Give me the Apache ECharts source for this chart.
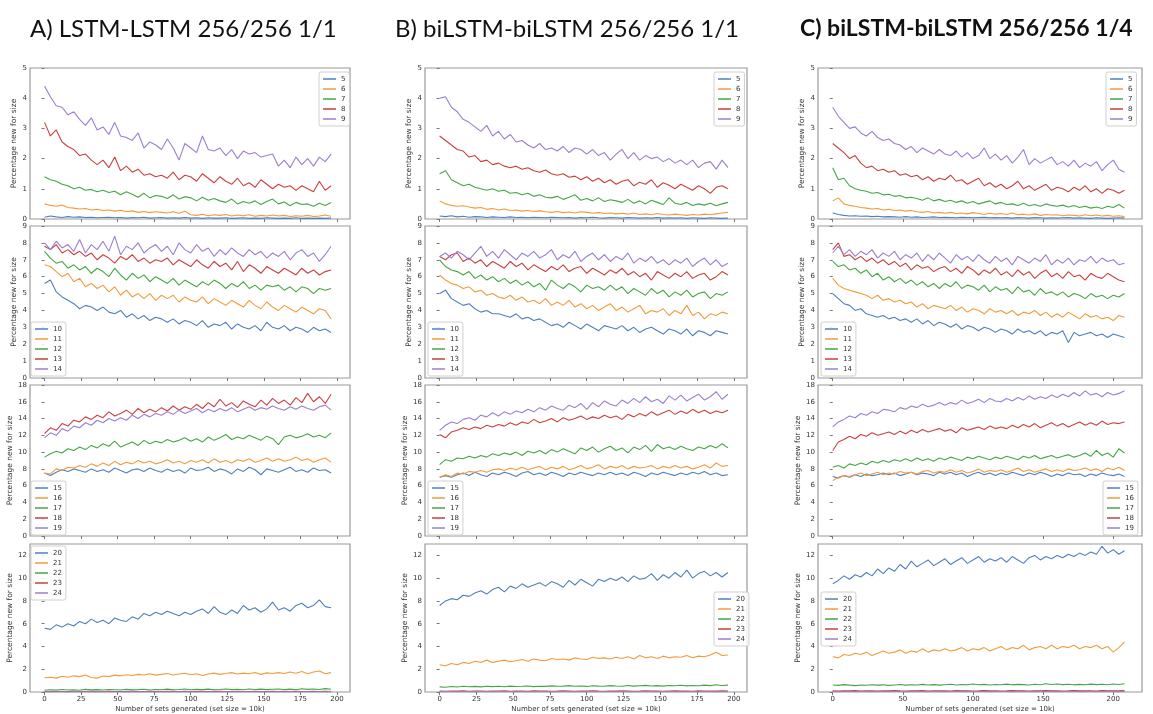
<!DOCTYPE html>
<html><head><meta charset="utf-8">
<script src="https://cdn.jsdelivr.net/npm/echarts@6/dist/echarts.min.js"></script>
<style>html,body{margin:0;padding:0;background:#fff;}#c{width:1153px;height:714px;}</style>
</head><body><div id="c"></div>
<script>
// ---------- tick labels ----------
const xTicksAB = [0,25,50,75,100,125,150,175,200];
const xTicksC = [0,50,100,150,200];
const yTicks1 = [0,1,2,3,4,5];
const yTicks2 = [0,1,2,3,4,5,6,7,8,9];
const yTicks3 = [0,2,4,6,8,10,12,14,16,18];
const yTicks4 = [0,2,4,6,8,10,12];
const titles = ['A) LSTM-LSTM 256/256 1/1','B) biLSTM-biLSTM 256/256 1/1','C) biLSTM-biLSTM 256/256 1/4'];
const names1 = ['5','6','7','8','9'];
const names2 = ['10','11','12','13','14'];
const names3 = ['15','16','17','18','19'];
const names4 = ['20','21','22','23','24'];
const xStep = 4; // sampled every 4 generated sets

// ---------- A: LSTM-LSTM ----------
const A1_5 = [0.06,0.1,0.07,0.05,0.08,0.06,0.07,0.05,0.06,0.04,0.05,0.06,0.04,0.05,0.03,0.05,0.04,0.06,0.03,0.04,0.05,0.03,0.04,0.03,0.05,0.03,0.04,0.02,0.04,0.03,0.03,0.04,0.02,0.03,0.04,0.02,0.03,0.02,0.04,0.03,0.02,0.03,0.02,0.04,0.02,0.03,0.02,0.03,0.02,0.03];
const A1_6 = [0.5,0.45,0.42,0.46,0.38,0.36,0.33,0.35,0.3,0.32,0.28,0.3,0.26,0.29,0.24,0.27,0.22,0.25,0.21,0.24,0.22,0.2,0.24,0.19,0.26,0.14,0.12,0.16,0.11,0.14,0.12,0.15,0.1,0.13,0.11,0.14,0.09,0.12,0.1,0.13,0.1,0.12,0.08,0.11,0.09,0.12,0.08,0.1,0.13,0.09];
const A1_7 = [1.4,1.3,1.25,1.15,1.1,1.0,1.05,0.95,0.98,0.9,0.95,0.88,0.92,0.8,0.9,0.82,0.72,0.85,0.7,0.78,0.75,0.68,0.8,0.66,0.74,0.7,0.6,0.72,0.62,0.68,0.6,0.55,0.66,0.5,0.58,0.52,0.6,0.48,0.58,0.66,0.5,0.56,0.44,0.55,0.48,0.5,0.42,0.52,0.45,0.55];
const A1_8 = [3.2,2.75,2.95,2.55,2.4,2.3,2.1,2.15,1.95,1.8,1.95,1.7,2.05,1.6,1.75,1.55,1.65,1.45,1.5,1.4,1.45,1.35,1.55,1.3,1.45,1.4,1.25,1.5,1.35,1.2,1.4,1.25,1.15,1.35,1.1,1.2,1.05,1.3,1.15,1.0,1.15,1.05,1.1,0.95,1.1,1.0,0.9,1.25,0.95,1.1];
const A1_9 = [4.4,4.05,3.75,3.7,3.45,3.55,3.3,3.1,3.35,2.95,3.05,2.8,3.2,2.75,2.7,2.6,2.85,2.35,2.55,2.45,2.3,2.65,2.35,1.95,2.5,2.35,2.2,2.75,2.3,2.25,2.35,2.1,2.3,2.0,2.25,2.15,2.2,2.05,2.1,2.15,1.75,1.95,1.7,2.05,1.8,2.0,1.75,2.05,1.9,2.15];

const A2_10 = [5.6,5.8,5.1,4.8,4.6,4.4,4.1,4.3,4.2,4.0,4.2,3.9,3.8,4.0,3.6,3.8,3.5,3.7,3.4,3.6,3.5,3.3,3.5,3.2,3.4,3.3,3.1,3.4,3.0,3.2,3.1,3.3,2.9,3.2,3.0,2.9,3.1,2.8,3.3,3.0,2.9,3.1,2.8,3.0,2.9,2.7,3.0,2.8,2.9,2.7];
const A2_11 = [6.7,6.6,6.3,6.0,6.2,5.7,5.9,5.4,5.6,5.3,5.5,5.1,5.4,4.9,5.2,4.8,5.0,4.7,5.0,4.6,4.9,4.7,4.9,4.5,4.8,4.6,4.5,4.8,4.4,4.7,4.5,4.3,4.6,4.4,4.2,4.6,4.3,4.1,4.5,4.2,4.0,4.3,4.1,3.9,4.2,4.0,3.8,4.1,4.0,3.5];
const A2_12 = [7.5,7.1,6.8,6.9,6.5,6.7,6.4,6.6,6.2,6.5,6.3,6.0,6.5,6.1,5.8,6.2,5.9,6.1,5.7,6.0,5.8,5.6,5.9,5.5,5.8,5.6,5.4,5.7,5.5,5.8,5.6,5.3,5.6,5.4,5.7,5.3,5.5,5.2,5.5,5.4,5.5,5.2,5.4,5.1,5.4,5.3,5.0,5.3,5.2,5.3];
const A2_13 = [7.8,7.6,7.9,7.4,7.6,7.3,7.5,7.2,7.4,7.0,7.3,7.1,6.8,7.2,7.0,7.3,6.9,7.1,6.8,7.0,6.9,7.1,6.7,7.0,6.8,6.6,7.0,6.7,6.5,6.9,6.6,6.8,6.4,6.9,6.3,6.7,6.5,6.2,6.6,6.4,6.2,6.5,6.3,6.1,6.5,6.2,6.4,6.1,6.3,6.4];
const A2_14 = [8.0,7.6,8.1,7.7,7.9,7.5,8.2,7.4,7.9,7.6,8.1,7.5,8.4,7.3,7.8,7.6,8.0,7.4,7.7,7.9,7.5,7.8,7.3,8.0,7.6,7.4,7.9,7.5,7.7,7.2,7.6,7.3,7.7,7.4,7.2,7.6,7.3,7.5,7.1,7.4,7.2,7.5,7.0,7.4,7.6,7.2,7.4,6.9,7.3,7.8];

const A3_15 = [7.5,7.2,7.6,7.9,7.7,8.0,7.8,7.6,8.0,7.7,7.9,7.6,8.1,7.8,7.5,7.9,8.0,7.7,8.1,7.8,7.6,8.0,7.7,7.9,7.5,8.1,7.8,7.9,8.2,7.7,8.0,7.8,7.4,8.0,7.7,8.2,7.9,7.3,8.0,7.8,7.6,7.9,8.2,7.7,7.9,7.6,8.1,7.8,7.9,7.5];
const A3_16 = [7.5,7.4,8.0,7.8,8.2,8.1,8.4,8.2,8.6,8.3,8.7,8.4,8.9,8.5,8.8,8.6,9.0,8.7,8.9,8.6,8.8,9.1,8.7,8.9,8.6,9.0,8.8,9.1,8.7,9.2,8.8,9.0,8.7,9.1,8.9,9.2,8.8,9.0,9.3,8.9,9.2,8.9,9.1,9.4,9.0,9.2,8.8,9.1,9.3,8.8];
const A3_17 = [9.4,9.8,10.1,9.9,10.4,10.2,10.6,10.3,10.8,10.5,11.0,10.7,11.3,10.6,10.9,11.2,10.8,11.4,11.0,11.3,11.1,11.5,11.2,11.4,11.7,11.3,11.6,11.2,11.8,11.4,11.7,12.1,11.5,11.8,11.6,12.0,11.7,11.4,11.9,11.6,10.9,11.8,12.0,11.7,11.9,12.2,11.8,12.0,11.7,12.3];
const A3_18 = [12.2,12.9,12.6,13.4,13.1,13.8,13.6,14.2,13.9,14.4,14.1,14.8,14.3,14.6,15.0,14.5,15.2,14.7,15.1,14.8,15.3,14.9,15.5,15.0,15.4,15.1,15.7,15.2,15.9,15.4,16.3,15.5,15.9,15.3,16.1,15.7,15.4,16.2,15.6,16.4,15.8,16.2,15.6,16.5,15.9,17.0,16.0,16.6,15.8,16.9];
const A3_19 = [11.7,12.3,12.0,12.8,12.5,13.1,12.9,13.5,13.2,13.8,13.5,14.0,13.7,14.1,13.8,14.4,14.0,14.5,14.2,14.6,14.4,14.8,14.5,15.0,14.6,14.9,15.2,14.7,15.1,14.8,15.2,14.9,15.3,14.8,15.1,15.4,15.0,15.3,15.1,15.5,15.2,15.0,15.4,15.1,15.5,15.2,15.0,15.4,15.6,15.0];

const A4_20 = [5.6,5.5,5.9,5.7,6.0,5.8,6.2,6.0,6.4,6.1,6.3,6.0,6.5,6.3,6.2,6.6,6.4,6.9,6.7,7.0,6.8,7.1,6.9,6.7,7.0,6.8,7.1,7.3,6.9,7.5,7.0,6.8,7.2,6.9,7.6,7.2,7.4,7.0,7.3,7.9,7.2,7.4,7.1,7.6,7.8,7.4,7.6,8.1,7.5,7.4];
const A4_21 = [1.25,1.3,1.22,1.38,1.3,1.42,1.35,1.5,1.28,1.22,1.4,1.35,1.48,1.42,1.52,1.45,1.55,1.5,1.6,1.48,1.55,1.62,1.5,1.58,1.65,1.52,1.6,1.45,1.58,1.66,1.55,1.62,1.7,1.58,1.66,1.6,1.72,1.55,1.68,1.62,1.7,1.62,1.75,1.65,1.8,1.6,1.75,1.85,1.6,1.7];
const A4_22 = [0.15,0.2,0.17,0.22,0.18,0.2,0.16,0.23,0.19,0.21,0.18,0.22,0.2,0.17,0.23,0.19,0.21,0.24,0.18,0.22,0.2,0.25,0.19,0.22,0.26,0.2,0.23,0.21,0.25,0.19,0.22,0.26,0.21,0.24,0.2,0.27,0.22,0.25,0.21,0.24,0.26,0.22,0.25,0.2,0.28,0.23,0.26,0.22,0.3,0.24];
const A4_23 = [0.05,0.04,0.06,0.05,0.03,0.06,0.04,0.05,0.07,0.04,0.05,0.06,0.04,0.05,0.03,0.06,0.05,0.04,0.06,0.05,0.04,0.07,0.05,0.04,0.06,0.05,0.03,0.06,0.05,0.04,0.06,0.05,0.04,0.07,0.05,0.04,0.06,0.05,0.04,0.06,0.05,0.07,0.04,0.06,0.05,0.04,0.06,0.05,0.07,0.05];
const A4_24 = [0.01,0.02,0.01,0.01,0.02,0.01,0.01,0.02,0.01,0.01,0.02,0.01,0.02,0.01,0.01,0.02,0.01,0.01,0.02,0.01,0.01,0.02,0.01,0.02,0.01,0.01,0.02,0.01,0.01,0.02,0.01,0.02,0.01,0.01,0.02,0.01,0.01,0.02,0.01,0.01,0.02,0.01,0.02,0.01,0.01,0.02,0.01,0.01,0.02,0.01];

// ---------- B: biLSTM-biLSTM 1/1 ----------
const B1_5 = [0.1,0.08,0.11,0.07,0.09,0.06,0.08,0.07,0.05,0.07,0.06,0.05,0.07,0.05,0.06,0.04,0.06,0.05,0.04,0.06,0.05,0.04,0.05,0.03,0.05,0.04,0.06,0.04,0.03,0.05,0.04,0.03,0.05,0.04,0.03,0.04,0.03,0.05,0.03,0.04,0.03,0.04,0.02,0.04,0.03,0.02,0.04,0.03,0.02,0.03];
const B1_6 = [0.6,0.5,0.45,0.42,0.44,0.4,0.36,0.38,0.32,0.35,0.3,0.33,0.28,0.3,0.26,0.28,0.25,0.27,0.24,0.22,0.25,0.21,0.23,0.2,0.24,0.22,0.19,0.21,0.18,0.2,0.17,0.19,0.16,0.2,0.15,0.17,0.14,0.18,0.15,0.13,0.16,0.14,0.12,0.15,0.13,0.16,0.14,0.17,0.2,0.22];
const B1_7 = [1.5,1.6,1.3,1.2,1.1,1.15,1.05,1.0,0.95,1.0,0.92,0.95,0.85,0.88,0.8,0.85,0.75,0.8,0.72,0.7,0.75,0.65,0.72,0.8,0.62,0.68,0.6,0.7,0.58,0.64,0.6,0.55,0.65,0.52,0.6,0.5,0.62,0.55,0.48,0.7,0.52,0.48,0.55,0.45,0.5,0.46,0.52,0.44,0.5,0.55];
const B1_8 = [2.75,2.6,2.45,2.3,2.25,2.05,2.1,1.9,1.95,1.8,1.85,1.75,1.7,1.75,1.65,1.7,1.6,1.55,1.62,1.5,1.45,1.5,1.38,1.42,1.3,1.4,1.25,1.35,1.2,1.3,1.15,1.25,1.3,1.1,1.22,1.15,1.3,1.05,1.2,1.12,1.0,1.15,1.05,0.95,1.1,1.0,0.85,1.05,1.1,1.0];
const B1_9 = [4.0,4.05,3.7,3.55,3.3,3.2,3.05,2.9,3.1,2.75,2.9,2.65,2.8,2.55,2.6,2.45,2.35,2.5,2.3,2.35,2.25,2.4,2.2,2.35,2.3,2.15,2.3,2.1,2.2,1.95,2.15,2.3,2.0,2.2,1.95,2.1,2.0,2.05,1.9,2.0,1.85,1.95,1.8,1.95,1.7,1.85,1.9,1.65,1.95,1.7];

const B2_10 = [5.0,5.2,4.7,4.5,4.3,4.4,4.1,3.9,4.0,3.8,3.8,3.7,3.6,3.8,3.5,3.6,3.4,3.5,3.3,3.1,3.2,3.0,3.3,3.1,2.9,3.2,3.0,2.8,3.1,3.0,2.9,3.1,2.8,3.0,2.7,2.9,3.0,2.8,2.6,2.9,2.8,2.6,2.9,2.5,2.8,2.7,2.5,2.8,2.7,2.6];
const B2_11 = [6.1,5.8,5.6,5.5,5.3,5.4,5.1,5.2,4.9,5.0,4.8,4.7,4.9,4.6,4.8,4.5,4.6,4.4,4.7,4.3,4.5,4.3,4.6,4.2,4.4,4.1,4.3,4.0,4.2,4.4,4.0,4.2,3.9,4.1,4.3,3.8,4.0,3.9,4.1,3.7,4.0,3.8,4.3,3.7,3.9,3.5,3.8,3.7,3.9,3.8];
const B2_12 = [7.0,6.6,6.4,6.3,6.1,6.3,5.9,6.1,5.8,6.0,5.7,5.9,5.6,5.8,5.5,5.7,5.4,5.6,5.2,5.8,5.5,5.3,5.6,5.4,5.1,5.5,5.3,5.4,5.2,5.5,5.2,5.4,5.0,5.3,5.1,4.9,5.3,5.0,5.2,4.8,5.1,4.9,5.2,4.8,5.0,5.1,4.7,5.0,4.9,5.1];
const B2_13 = [7.2,7.0,7.3,7.4,6.9,7.1,6.8,7.0,6.6,6.9,6.7,6.5,6.9,6.6,6.8,6.4,6.7,6.5,6.3,6.6,6.4,6.7,6.3,6.5,6.6,6.2,6.5,6.3,6.1,6.4,6.2,6.5,6.1,6.3,6.0,6.2,5.8,6.3,6.1,5.9,6.2,6.0,6.3,5.9,6.1,6.2,5.8,6.0,6.3,6.1];
const B2_14 = [7.2,7.4,7.1,7.5,7.3,7.0,7.4,7.8,7.2,7.5,7.1,7.6,7.3,7.0,7.4,7.2,7.5,7.1,7.3,7.6,7.0,7.3,7.1,7.5,6.9,7.2,7.4,7.0,7.3,6.9,7.2,7.0,7.4,6.8,7.1,6.9,7.2,6.8,7.0,6.7,7.0,6.8,7.1,6.6,6.9,7.1,6.7,7.0,6.6,6.8];

const B3_15 = [7.0,7.2,7.0,7.3,7.5,7.2,7.6,7.3,7.1,7.5,7.3,7.6,7.4,7.1,7.5,7.7,7.3,7.5,7.2,7.6,7.4,7.1,7.5,7.3,7.6,7.4,7.2,7.5,7.3,7.6,7.3,7.5,7.2,7.6,7.4,7.1,7.5,7.3,7.6,7.4,7.2,7.5,7.3,7.6,7.4,7.7,7.3,7.5,7.2,7.3];
const B3_16 = [7.0,7.3,7.1,7.5,7.4,7.7,7.6,7.8,7.6,7.9,8.0,7.8,8.1,7.9,8.2,7.9,8.1,8.3,7.9,8.2,8.0,8.3,7.9,8.1,8.4,8.0,8.2,8.5,8.0,8.3,8.1,8.4,8.0,8.3,8.1,8.2,8.4,8.0,8.3,8.1,8.4,8.1,8.3,8.0,8.2,8.5,8.1,8.7,8.3,8.4];
const B3_17 = [8.5,9.1,8.9,9.3,9.2,9.5,9.3,9.6,9.4,9.8,9.6,9.9,9.7,10.0,9.6,10.1,9.9,10.2,9.8,10.3,10.0,10.4,10.1,9.8,10.5,10.2,10.6,10.0,10.4,10.7,10.2,10.5,9.9,10.6,10.3,10.8,10.1,10.9,10.4,10.6,10.3,10.7,10.4,10.2,10.6,10.4,10.8,10.5,11.0,10.5];
const B3_18 = [12.1,11.7,12.4,12.6,12.9,12.7,13.0,12.8,13.2,13.0,13.3,13.1,13.5,13.2,13.6,13.4,13.9,13.5,13.7,14.0,13.6,14.1,13.8,14.0,14.3,13.9,14.2,14.0,14.4,14.1,14.3,13.9,14.5,14.2,14.6,14.3,14.8,14.4,14.7,15.0,14.5,14.9,14.6,15.1,14.7,15.0,14.6,14.9,14.7,15.0];
const B3_19 = [12.6,13.2,13.6,13.4,13.9,14.1,13.8,14.4,14.2,14.7,14.3,14.8,14.5,14.9,14.7,15.1,14.8,15.3,15.0,15.5,15.2,15.0,15.6,15.3,15.8,15.1,15.9,15.4,16.1,15.7,15.5,16.2,15.8,16.4,15.9,16.6,16.0,16.3,15.8,16.7,16.2,16.8,16.1,16.5,16.9,16.2,16.6,17.2,16.3,16.9];

const B4_20 = [7.6,8.0,8.2,8.1,8.5,8.4,8.7,8.9,8.6,9.0,9.2,8.8,9.3,9.1,9.5,9.2,9.4,9.6,9.3,9.7,9.5,9.2,9.8,9.4,9.9,9.6,9.3,9.9,9.7,10.0,9.8,10.1,9.7,10.2,9.9,10.0,10.4,9.8,10.3,10.0,10.5,10.1,10.7,10.0,10.4,10.6,10.2,10.5,10.1,10.5];
const B4_21 = [2.4,2.3,2.5,2.4,2.6,2.5,2.7,2.6,2.8,2.6,2.7,2.8,2.65,2.75,2.85,2.7,2.9,2.8,2.75,2.95,2.85,2.9,2.8,3.0,2.9,2.85,3.05,2.95,3.0,2.9,3.05,2.95,3.1,2.9,3.2,3.0,3.1,2.95,3.15,3.0,3.1,3.05,3.2,3.0,3.15,3.1,3.25,3.5,3.2,3.25];
const B4_22 = [0.45,0.42,0.48,0.44,0.5,0.46,0.49,0.45,0.51,0.47,0.5,0.46,0.52,0.48,0.5,0.53,0.47,0.51,0.49,0.54,0.5,0.52,0.56,0.5,0.53,0.49,0.55,0.52,0.5,0.56,0.53,0.51,0.57,0.52,0.55,0.58,0.53,0.56,0.52,0.57,0.55,0.59,0.54,0.57,0.55,0.6,0.56,0.63,0.57,0.6];
const B4_23 = [0.08,0.07,0.09,0.08,0.1,0.07,0.09,0.08,0.07,0.09,0.08,0.1,0.07,0.08,0.09,0.07,0.1,0.08,0.09,0.07,0.08,0.1,0.09,0.07,0.08,0.09,0.1,0.08,0.07,0.09,0.08,0.1,0.09,0.07,0.08,0.1,0.09,0.08,0.07,0.09,0.1,0.08,0.09,0.07,0.1,0.08,0.09,0.08,0.1,0.09];
const B4_24 = [0.02,0.03,0.02,0.02,0.03,0.02,0.01,0.03,0.02,0.02,0.03,0.02,0.02,0.01,0.03,0.02,0.02,0.03,0.02,0.01,0.02,0.03,0.02,0.02,0.03,0.02,0.01,0.02,0.03,0.02,0.02,0.03,0.02,0.01,0.02,0.03,0.02,0.02,0.03,0.02,0.01,0.02,0.03,0.02,0.02,0.03,0.02,0.01,0.02,0.03];

// ---------- C: biLSTM-biLSTM 1/4 ----------
const C1_5 = [0.2,0.15,0.12,0.1,0.11,0.09,0.1,0.08,0.09,0.07,0.08,0.07,0.06,0.08,0.06,0.07,0.05,0.06,0.07,0.05,0.06,0.05,0.04,0.06,0.05,0.04,0.05,0.06,0.04,0.05,0.04,0.05,0.03,0.05,0.04,0.03,0.05,0.04,0.03,0.04,0.03,0.04,0.05,0.03,0.04,0.03,0.02,0.04,0.03,0.02,0.03,0.04,0.03];
const C1_6 = [0.6,0.7,0.5,0.45,0.42,0.38,0.36,0.33,0.35,0.3,0.32,0.28,0.3,0.26,0.28,0.24,0.22,0.25,0.2,0.22,0.19,0.22,0.18,0.2,0.17,0.21,0.18,0.15,0.19,0.16,0.18,0.15,0.2,0.14,0.16,0.13,0.17,0.12,0.15,0.13,0.14,0.11,0.13,0.12,0.1,0.14,0.11,0.13,0.1,0.12,0.09,0.11,0.08];
const C1_7 = [1.7,1.3,1.35,1.1,1.0,0.95,0.92,0.85,0.88,0.8,0.82,0.75,0.78,0.7,0.72,0.68,0.62,0.7,0.6,0.65,0.58,0.62,0.55,0.6,0.52,0.58,0.5,0.55,0.6,0.5,0.55,0.48,0.5,0.45,0.52,0.44,0.48,0.42,0.5,0.45,0.42,0.46,0.4,0.45,0.38,0.42,0.36,0.4,0.35,0.42,0.38,0.48,0.36];
const C1_8 = [2.5,2.35,2.2,2.0,2.1,1.85,1.7,1.75,1.6,1.65,1.55,1.6,1.45,1.5,1.4,1.45,1.3,1.4,1.25,1.35,1.3,1.45,1.25,1.3,1.15,1.25,1.35,1.1,1.2,1.05,1.15,1.0,1.1,1.25,1.0,1.1,0.95,1.05,1.15,0.95,1.05,1.0,0.9,1.05,0.95,1.1,0.9,1.0,0.85,1.0,0.95,0.85,0.95];
const C1_9 = [3.7,3.4,3.2,3.0,3.05,2.85,2.75,2.9,2.7,2.6,2.65,2.5,2.45,2.3,2.4,2.2,2.35,2.25,2.15,2.3,2.15,2.1,2.25,2.05,2.2,2.0,2.1,2.35,2.0,2.15,1.95,2.1,1.85,2.05,2.3,1.8,2.0,1.85,1.95,2.05,1.8,1.9,1.75,1.95,1.7,1.85,1.75,1.9,1.6,1.8,1.95,1.65,1.55];

const C2_10 = [5.0,4.7,4.4,4.3,4.0,4.1,3.8,3.7,3.6,3.7,3.5,3.6,3.4,3.5,3.3,3.5,3.2,3.4,3.1,3.3,3.2,3.0,3.2,2.9,3.1,3.0,2.8,3.0,2.9,2.7,2.9,2.8,2.6,2.9,2.7,2.8,2.6,2.8,2.5,2.7,2.6,2.8,2.1,2.7,2.5,2.6,2.7,2.5,2.6,2.4,2.6,2.5,2.4];
const C2_11 = [5.9,5.5,5.3,5.2,5.1,5.0,4.9,4.7,4.9,4.6,4.7,4.5,4.6,4.4,4.5,4.2,4.4,4.1,4.3,4.2,4.1,4.3,4.0,4.2,3.9,4.1,4.0,3.8,4.1,3.9,4.0,3.8,4.0,3.7,3.9,3.8,4.0,3.7,3.9,3.6,3.8,3.6,3.9,3.7,3.5,3.8,3.6,3.7,3.5,3.6,3.4,3.7,3.6];
const C2_12 = [6.9,6.6,6.7,6.4,6.5,6.2,6.4,6.0,6.2,5.8,6.0,5.7,5.9,5.6,5.8,5.5,5.7,5.4,5.6,5.3,5.6,5.4,5.7,5.3,5.5,5.4,5.2,5.5,5.1,5.4,5.2,5.3,5.0,5.4,5.1,5.2,4.9,5.3,5.0,5.1,4.9,5.1,4.8,5.0,4.9,4.7,5.0,4.8,4.9,4.7,4.9,4.8,5.0];
const C2_13 = [7.6,8.0,7.2,7.3,7.0,7.2,6.9,7.1,6.8,7.0,6.7,6.9,6.6,6.8,6.4,6.7,6.5,6.6,6.3,6.5,6.6,6.3,6.5,6.2,6.6,6.4,6.1,6.4,6.2,6.5,6.1,6.3,6.0,6.4,6.1,6.3,5.9,6.2,6.4,6.0,6.2,5.9,6.3,6.0,6.1,5.8,6.2,6.0,5.9,6.2,6.0,5.8,5.7];
const C2_14 = [7.4,7.8,7.3,7.6,7.2,7.5,7.3,7.6,7.1,7.4,7.2,7.5,7.0,7.3,7.1,7.4,6.9,7.3,7.0,7.4,7.1,6.8,7.3,7.0,7.2,6.9,7.3,7.0,6.8,7.2,6.9,7.1,6.7,7.2,7.0,6.8,7.1,6.9,7.3,6.7,7.0,6.8,7.1,6.7,7.0,6.9,7.2,6.8,7.1,6.9,7.0,6.7,6.8];

const C3_15 = [7.1,6.9,7.2,7.0,7.3,7.1,7.4,7.2,7.3,7.5,7.3,7.5,7.2,7.4,7.6,7.3,7.5,7.4,7.2,7.6,7.4,7.6,7.3,7.5,7.1,7.4,7.6,7.3,7.5,7.2,7.5,7.3,7.6,7.4,7.2,7.5,7.3,7.6,7.4,7.1,7.4,7.2,7.5,7.3,7.4,7.1,7.4,7.2,7.5,7.3,7.2,7.4,7.1];
const C3_16 = [6.6,7.0,7.2,7.1,7.3,7.5,7.2,7.4,7.6,7.3,7.5,7.4,7.7,7.5,7.6,7.4,7.7,7.8,7.5,7.7,7.6,7.9,7.6,7.8,7.5,7.7,8.0,7.6,7.8,7.7,7.9,7.6,7.8,8.1,7.7,7.9,7.6,7.8,8.0,7.7,7.9,7.7,8.0,7.8,7.9,8.1,7.8,8.0,7.7,8.1,7.9,8.2,7.8];
const C3_17 = [8.2,8.4,8.1,8.6,8.4,8.7,8.5,8.9,8.7,9.0,8.8,9.1,8.9,9.2,8.9,9.3,9.0,9.2,8.9,9.3,9.1,9.4,9.2,9.0,9.4,9.2,9.5,9.3,9.1,9.4,9.2,9.5,9.3,9.1,9.5,9.3,9.6,9.2,9.4,9.6,9.3,9.5,9.7,9.4,9.6,9.9,9.5,10.2,9.6,9.9,9.4,10.4,9.9];
const C3_18 = [10.2,11.2,11.5,11.9,11.6,12.1,11.9,12.3,12.0,12.2,12.4,12.1,12.5,12.2,12.6,12.3,12.7,12.4,12.6,12.8,12.5,12.7,12.3,12.9,12.6,12.8,13.0,12.7,13.1,12.8,13.0,12.8,13.2,12.9,13.3,13.0,13.4,12.9,13.2,13.5,13.1,13.4,13.0,13.3,13.6,13.2,13.5,13.2,13.7,13.3,13.5,13.4,13.6];
const C3_19 = [13.0,13.6,13.9,14.3,14.1,14.6,14.4,14.8,14.6,15.1,15.0,14.8,15.3,15.1,15.5,15.3,15.7,15.4,15.6,15.9,15.6,15.9,15.7,16.2,15.8,16.0,16.3,15.9,16.4,16.1,16.0,16.4,16.1,16.5,16.2,16.7,16.3,16.6,16.4,16.8,16.5,16.9,16.6,17.1,16.7,17.3,16.8,17.0,16.6,17.1,16.8,17.0,17.3];

const C4_20 = [9.5,9.8,10.2,9.9,10.3,10.1,10.5,10.2,10.8,10.4,10.9,10.6,11.2,10.8,11.5,11.0,11.3,11.6,11.1,11.4,11.7,11.2,11.5,11.8,11.3,11.6,11.9,11.4,11.7,11.5,11.8,11.4,11.9,11.6,11.3,11.8,12.0,11.6,11.9,11.7,12.0,11.8,12.1,11.9,12.2,12.0,12.3,12.1,12.8,12.2,12.5,12.1,12.4];
const C4_21 = [3.1,3.0,3.3,3.2,3.4,3.3,3.5,3.2,3.4,3.6,3.4,3.5,3.7,3.4,3.6,3.5,3.8,3.5,3.7,3.6,3.8,3.6,3.7,3.9,3.6,3.8,3.7,3.9,3.6,3.8,4.0,3.7,3.9,3.8,4.1,3.7,3.9,4.0,3.8,4.1,3.8,4.0,3.9,4.1,3.8,4.0,3.9,4.1,3.8,4.0,3.5,3.9,4.4];
const C4_22 = [0.62,0.58,0.65,0.6,0.56,0.62,0.59,0.64,0.6,0.63,0.58,0.62,0.66,0.6,0.64,0.61,0.67,0.62,0.65,0.6,0.64,0.68,0.62,0.66,0.63,0.7,0.64,0.67,0.62,0.66,0.64,0.69,0.63,0.67,0.65,0.62,0.68,0.64,0.72,0.66,0.7,0.65,0.68,0.63,0.67,0.64,0.69,0.65,0.68,0.64,0.7,0.66,0.72];
const C4_23 = [0.1,0.09,0.11,0.1,0.12,0.09,0.11,0.1,0.09,0.11,0.1,0.12,0.1,0.09,0.11,0.1,0.12,0.09,0.1,0.11,0.1,0.09,0.12,0.1,0.11,0.09,0.1,0.12,0.1,0.11,0.09,0.1,0.12,0.11,0.1,0.09,0.11,0.1,0.12,0.1,0.11,0.09,0.1,0.12,0.1,0.11,0.1,0.09,0.12,0.1,0.11,0.1,0.12];
const C4_24 = [0.04,0.03,0.05,0.04,0.03,0.04,0.05,0.03,0.04,0.04,0.03,0.05,0.04,0.03,0.04,0.05,0.04,0.03,0.04,0.05,0.03,0.04,0.04,0.05,0.03,0.04,0.05,0.04,0.03,0.04,0.05,0.04,0.03,0.04,0.04,0.05,0.03,0.04,0.05,0.04,0.03,0.04,0.05,0.04,0.03,0.04,0.05,0.03,0.04,0.04,0.05,0.03,0.04];

// ---------- layout ----------
const COLORS = ['#4f7fc0','#f39a3c','#46a646','#c9413f','#9b7fd0'];
const colLeft = [30, 425, 818];
const colWidth = [320, 322, 324];
const rowTop = [68, 226, 385, 544];
const rowHeight = [151, 152, 151, 150];
const yMax = [5, 9, 18, 13];
const yTicks = [yTicks1, yTicks2, yTicks3, yTicks4];
const rowNames = [names1, names2, names3, names4];
const xRange = [[-9.95, 208.95], [-9.95, 208.95], [-10.5, 220.5]];
const xTicks = [xTicksAB, xTicksAB, xTicksC];
const panelData = [
  [[A1_5,A1_6,A1_7,A1_8,A1_9],[A2_10,A2_11,A2_12,A2_13,A2_14],[A3_15,A3_16,A3_17,A3_18,A3_19],[A4_20,A4_21,A4_22,A4_23,A4_24]],
  [[B1_5,B1_6,B1_7,B1_8,B1_9],[B2_10,B2_11,B2_12,B2_13,B2_14],[B3_15,B3_16,B3_17,B3_18,B3_19],[B4_20,B4_21,B4_22,B4_23,B4_24]],
  [[C1_5,C1_6,C1_7,C1_8,C1_9],[C2_10,C2_11,C2_12,C2_13,C2_14],[C3_15,C3_16,C3_17,C3_18,C3_19],[C4_20,C4_21,C4_22,C4_23,C4_24]]
];
// legend top-left positions [col][row]
const legendPos = [
  [[319,72],[31,322],[31,481],[31,546]],
  [[714,72],[428,322],[428,481],[714,592]],
  [[1106,72],[821,322],[1103,481],[821,592]]
];

const FONT = 'DejaVu Sans';
const grid = [], xAxis = [], yAxis = [], series = [], legend = [];
let idx = 0;
for (let c = 0; c < 3; c++) {
  for (let r = 0; r < 4; r++) {
    grid.push({left: colLeft[c], top: rowTop[r], width: colWidth[c], height: rowHeight[r],
      show: true, borderColor: '#9a9a9a', borderWidth: 1.2, backgroundColor: '#fff'});
    xAxis.push({type: 'value', gridIndex: idx, min: xRange[c][0], max: xRange[c][1],
      axisLine: {show: false}, splitLine: {show: false},
      axisTick: {show: true, length: 3, lineStyle: {color: '#777'}, customValues: xTicks[c]},
      axisLabel: {show: r === 3, customValues: xTicks[c], fontSize: 7, color: '#333', margin: 4, fontFamily: FONT},
      name: r === 3 ? 'Number of sets generated (set size = 10k)' : '',
      nameLocation: 'middle', nameGap: 14,
      nameTextStyle: {fontSize: 7, color: '#333', fontFamily: FONT}
    });
    yAxis.push({type: 'value', gridIndex: idx, min: 0, max: yMax[r],
      axisLine: {show: false}, splitLine: {show: false},
      axisTick: {show: true, length: 3, lineStyle: {color: '#777'}, customValues: yTicks[r]},
      axisLabel: {customValues: yTicks[r], fontSize: 7, color: '#333', margin: 3, fontFamily: FONT},
      name: 'Percentage new for size', nameLocation: 'middle', nameGap: 12, nameRotate: 90,
      nameTextStyle: {fontSize: 7.5, color: '#333', fontFamily: FONT}
    });
    const nm = rowNames[r];
    panelData[c][r].forEach((vals, k) => {
      series.push({type: 'line', name: nm[k], xAxisIndex: idx, yAxisIndex: idx,
        data: vals.map((v, i) => [i * xStep, v]), showSymbol: false, symbol: 'none',
        lineStyle: {width: 1.1, color: COLORS[k]}, itemStyle: {color: COLORS[k]},
        animation: false, z: 2 + k});
    });
    legend.push({data: nm, orient: 'vertical', left: legendPos[c][r][0], top: legendPos[c][r][1],
      icon: 'rect', itemWidth: 13, itemHeight: 1.5, itemGap: 2, selectedMode: false,
      padding: [3, 4, 3, 4], borderColor: '#d0d0d0', borderWidth: 1, borderRadius: 2,
      backgroundColor: 'rgba(255,255,255,0.85)',
      textStyle: {fontSize: 7, lineHeight: 8, color: '#333', fontFamily: FONT}});
    idx++;
  }
}

const titleLeft = [30, 395, 800];
const titleFont = ['24px Lato', '24px Lato', 'bold 23px Lato'];
const graphic = titles.map((t, c) => ({type: 'text', left: titleLeft[c], top: 17,
  style: {text: t, font: titleFont[c], fill: '#111'}}));

const chart = echarts.init(document.getElementById('c'), null, {renderer: 'canvas'});
chart.setOption({animation: false, backgroundColor: '#fff', grid, xAxis, yAxis, series, legend, graphic, tooltip: {show: false}});
</script>
</body></html>
